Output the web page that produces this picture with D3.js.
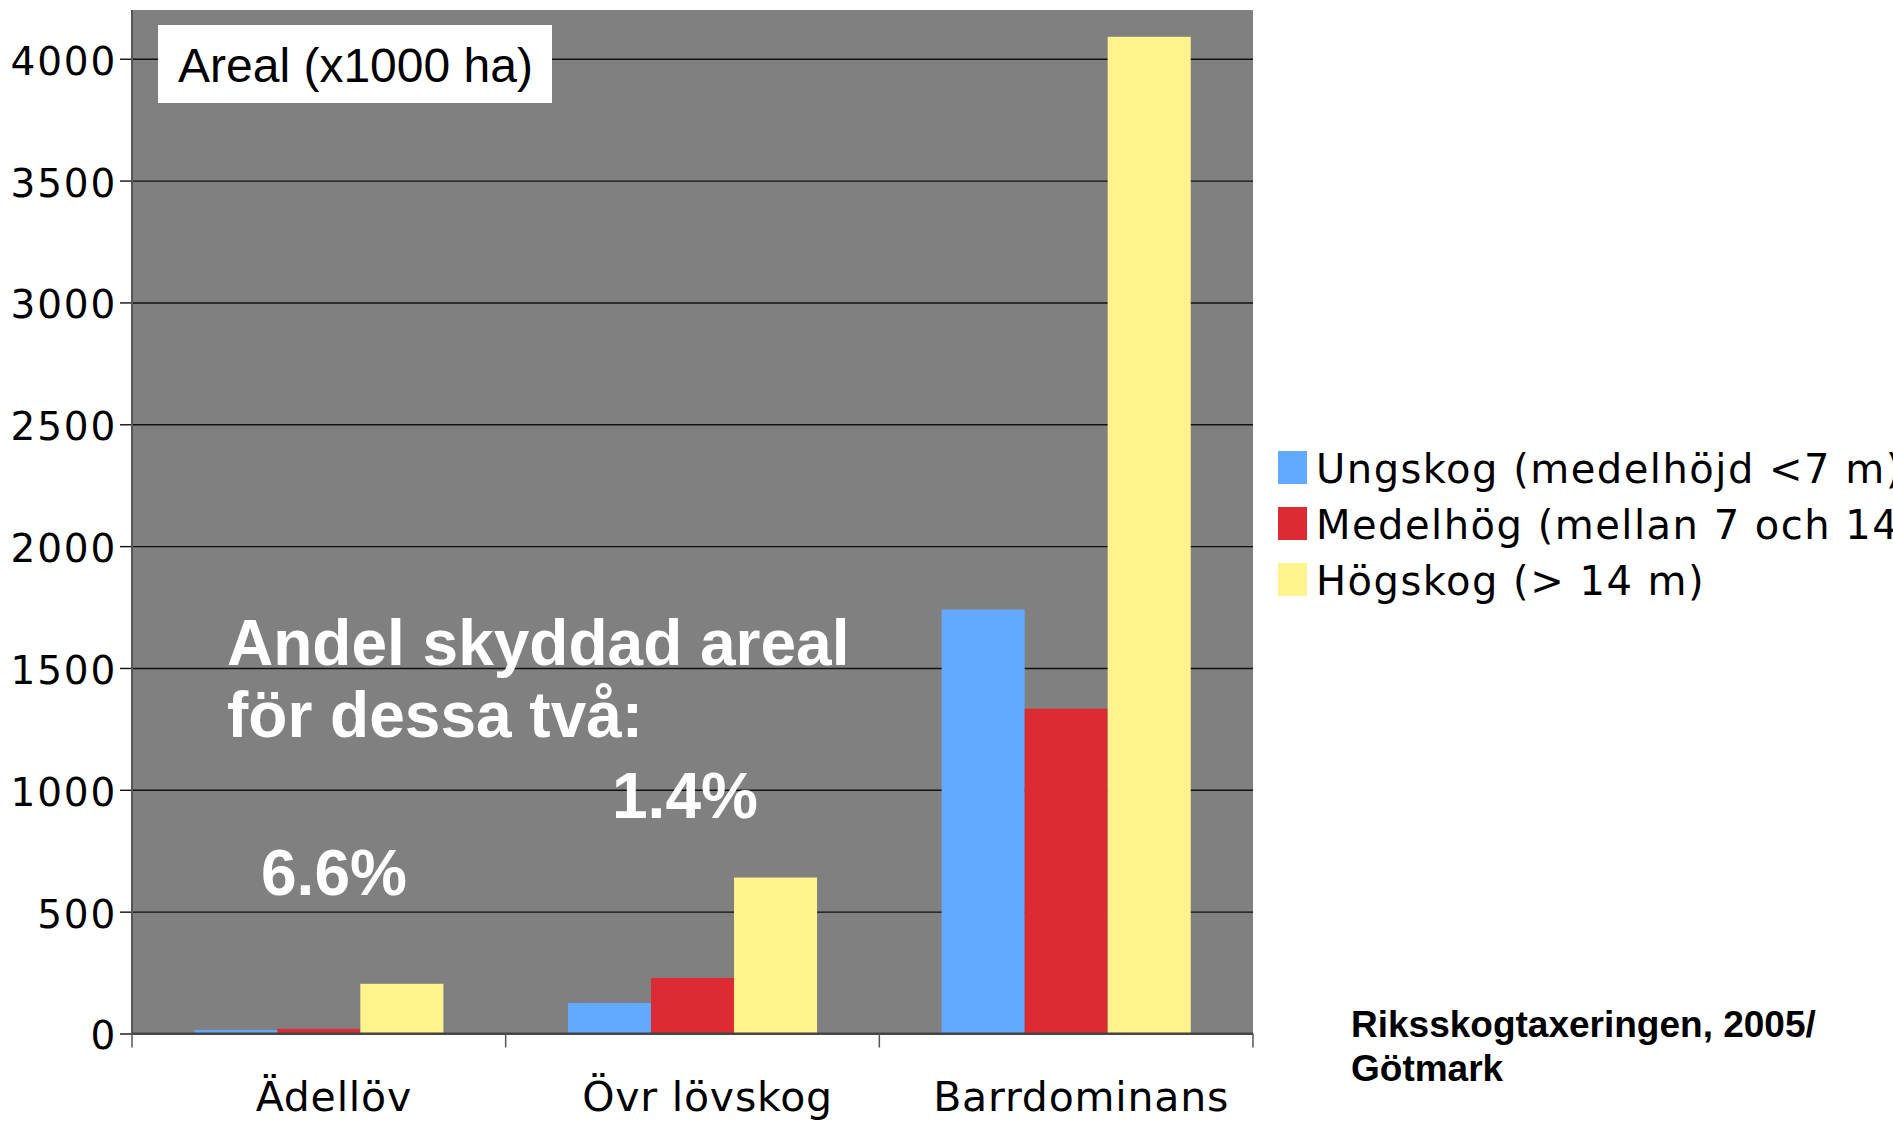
<!DOCTYPE html>
<html lang="sv">
<head>
  <meta charset="UTF-8">
  <script src="https://d3js.org/d3.v7.min.js"></script>
  <title>Areal per skogstyp</title>
  <style>
    body { margin: 0; background: #fff; }
    svg { display: block; }
    .tick-label { font-family: 'DejaVu Sans', Verdana, sans-serif; font-size: 39px; letter-spacing: 1.8px; fill: #000; }
    .cat-label { font-family: 'DejaVu Sans', Verdana, sans-serif; font-size: 41px; letter-spacing: 0.8px; fill: #000; }
    .legend-text { font-family: 'DejaVu Sans', Verdana, sans-serif; font-size: 40px; letter-spacing: 1.5px; fill: #000; }
    .note { font-family: 'Liberation Sans', Arial, sans-serif; font-weight: bold; font-size: 64px; fill: #fff; }
    .source { font-family: 'Liberation Sans', Arial, sans-serif; font-weight: bold; font-size: 37px; fill: #000; }
    .unit { font-family: 'Liberation Sans', Arial, sans-serif; font-size: 48px; fill: #000; }
  </style>
</head>
<body>
<svg width="1893" height="1124"></svg>
<script>
  // data (x1000 ha)
  const categories = ["Ädellöv", "Övr lövskog", "Barrdominans"];
  const seriesNames = ["Ungskog (medelhöjd <7 m)", "Medelhög (mellan 7 och 14 m)", "Högskog (> 14 m)"];
  const ungskog = [14, 125, 1740];
  const medelhog = [19, 228, 1333];
  const hogskog = [204, 640, 4090];
  const seriesColors = ["#63a9ff", "#dc2b32", "#fff38d"];
  const yTicks = [0, 500, 1000, 1500, 2000, 2500, 3000, 3500, 4000];

  const seriesValues = [ungskog, medelhog, hogskog];

  const svg = d3.select("svg");
  const plot = { left: 132, right: 1253, top: 10, bottom: 1033.5 };

  const x0 = d3.scaleBand().domain(categories).range([plot.left, plot.right]);
  const x1 = d3.scaleBand().domain(d3.range(seriesNames.length))
    .range([x0.bandwidth() / 6, x0.bandwidth() * 5 / 6]);
  const y = d3.scaleLinear().domain([0, 4200]).range([plot.bottom, plot.top]);

  // plot background
  svg.append("rect")
    .attr("x", plot.left).attr("y", plot.top)
    .attr("width", plot.right - plot.left).attr("height", plot.bottom - plot.top)
    .attr("fill", "#808080");

  // gridlines + left ticks
  svg.append("g")
    .attr("transform", `translate(${plot.left},0)`)
    .call(d3.axisLeft(y).tickValues(yTicks).tickSize(12).tickFormat(""))
    .call(g => g.select(".domain").remove())
    .call(g => g.selectAll(".tick line").clone()
      .attr("x2", plot.right - plot.left))
    .call(g => g.selectAll(".tick line").attr("stroke", "#111").attr("stroke-width", 1.4));

  // tick labels
  svg.append("g").selectAll("text")
    .data(yTicks).join("text")
    .attr("class", "tick-label")
    .attr("x", 117).attr("y", d => y(d)).attr("dy", "0.41em")
    .attr("text-anchor", "end")
    .text(d => d);

  // bars
  const groups = svg.append("g").selectAll("g")
    .data(categories).join("g")
    .attr("transform", d => `translate(${x0(d)},0)`);
  groups.selectAll("rect")
    .data((c, i) => seriesValues.map((s, k) => ({ k, v: s[i] })))
    .join("rect")
    .attr("x", d => x1(d.k))
    .attr("width", x1.bandwidth())
    .attr("y", d => y(d.v))
    .attr("height", d => y(0) - y(d.v))
    .attr("fill", d => seriesColors[d.k]);

  // axes lines
  svg.append("line")
    .attr("x1", plot.left).attr("x2", plot.left)
    .attr("y1", plot.top).attr("y2", plot.bottom)
    .attr("stroke", "#555").attr("stroke-width", 2);
  svg.append("line")
    .attr("x1", plot.left).attr("x2", plot.right)
    .attr("y1", plot.bottom).attr("y2", plot.bottom)
    .attr("stroke", "#444").attr("stroke-width", 2);

  // category separator ticks
  const edges = categories.map(c => x0(c)).concat([x0.range()[1]]);
  svg.append("g").selectAll("line")
    .data(edges).join("line")
    .attr("x1", d => d).attr("x2", d => d)
    .attr("y1", plot.bottom).attr("y2", plot.bottom + 14)
    .attr("stroke", "#555").attr("stroke-width", 1.5);

  svg.append("g").selectAll("text")
    .data(categories).join("text")
    .attr("class", "cat-label")
    .attr("x", d => x0(d) + x0.bandwidth() / 2 + 15)
    .attr("y", 1111)
    .attr("text-anchor", "middle")
    .text(d => d);

  // unit box
  svg.append("rect")
    .attr("x", 158).attr("y", 25).attr("width", 394).attr("height", 78)
    .attr("fill", "#fff");
  svg.append("text").attr("class", "unit")
    .attr("x", 178).attr("y", 82).text("Areal (x1000 ha)");

  // annotations
  svg.append("text").attr("class", "note").attr("x", 227).attr("y", 665).text("Andel skyddad areal");
  svg.append("text").attr("class", "note").attr("x", 227).attr("y", 737).text("för dessa två:");
  svg.append("text").attr("class", "note").attr("x", 612).attr("y", 818).text("1.4%");
  svg.append("text").attr("class", "note").attr("x", 261).attr("y", 895).text("6.6%");

  // legend
  const legend = svg.append("g").attr("transform", "translate(1278,451)");
  const items = legend.selectAll("g")
    .data(seriesNames).join("g")
    .attr("transform", (d, i) => `translate(0,${i * 56})`);
  items.append("rect")
    .attr("width", 29).attr("height", 33)
    .attr("fill", (d, i) => seriesColors[i]);
  items.append("text")
    .attr("class", "legend-text")
    .attr("x", 38).attr("y", 32)
    .text(d => d);

  // source
  svg.append("text").attr("class", "source").attr("x", 1351).attr("y", 1037).text("Riksskogtaxeringen, 2005/");
  svg.append("text").attr("class", "source").attr("x", 1351).attr("y", 1081).text("Götmark");
</script>
</body>
</html>
